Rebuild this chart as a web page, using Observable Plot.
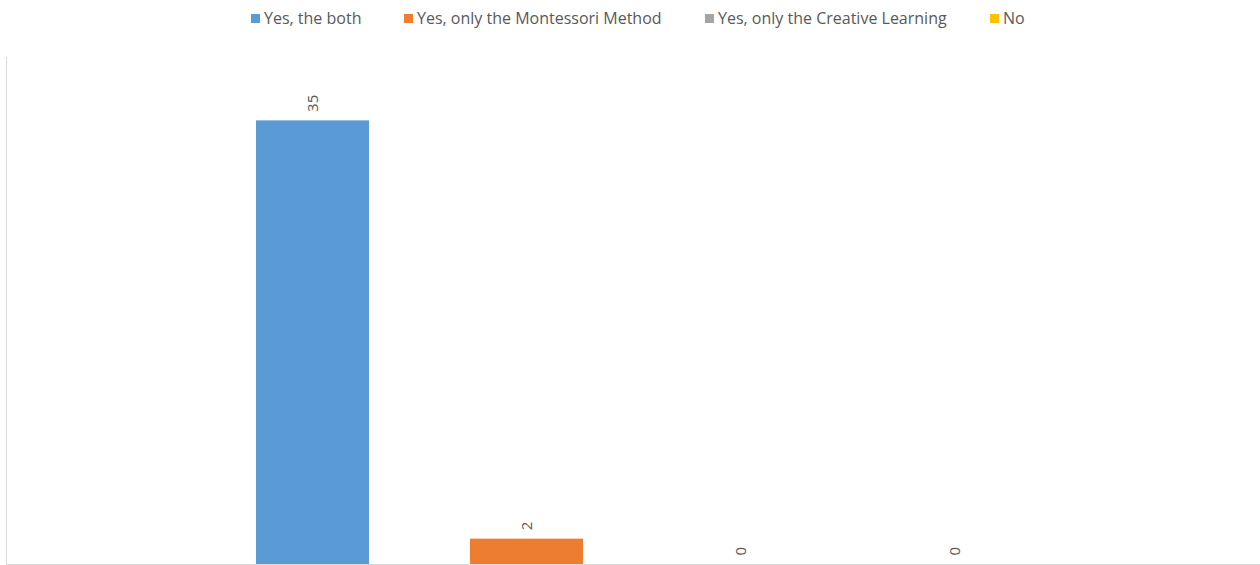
<!DOCTYPE html>
<html>
<head>
<meta charset="utf-8">
<script src="https://cdn.jsdelivr.net/npm/d3@7"></script>
<script src="https://cdn.jsdelivr.net/npm/@observablehq/plot@0.6"></script>
<style>
  html, body { margin: 0; padding: 0; background: #fff; }
  #wrap { position: relative; width: 1260px; height: 565px; overflow: hidden; }
  #legend { position: relative; height: 40px; width: 1260px; font-family: "Open Sans", sans-serif; font-size: 16px; color: #595959; }
  .item { position: absolute; top: 7px; white-space: nowrap; }
  .sw { display: inline-block; width: 9px; height: 9px; margin-right: 4px; vertical-align: 1px; }
</style>
</head>
<body>
<div id="wrap">
  <div id="legend"></div>
  <div id="chart"></div>
</div>
<script>
const series = ["Yes, the both", "Yes, only the Montessori Method", "Yes, only the Creative Learning", "No"];
const values = [35, 2, 0, 0];
const colors = ["#5B9BD5", "#ED7D31", "#A5A5A5", "#FFC000"];
const legendX = [251, 404, 705, 990];

const data = series.map((s, i) => ({series: s, value: values[i]}));

const legend = document.getElementById("legend");
series.forEach((s, i) => {
  const el = document.createElement("div");
  el.className = "item";
  el.style.left = legendX[i] + "px";
  el.innerHTML = `<span class="sw" style="background:${colors[i]}"></span>${s}`;
  legend.appendChild(el);
});

const chart = Plot.plot({
  width: 1260,
  height: 525,
  marginTop: 17,
  marginBottom: 1,
  marginLeft: 6,
  marginRight: 0,
  x: {domain: series, range: [155, 1112], padding: 0.472, round: false, axis: null},
  y: {domain: [0, 40], axis: null},
  color: {domain: series, range: colors},
  style: {fontFamily: "Open Sans, sans-serif", background: "#fff"},
  marks: [
    Plot.frame({anchor: "left", stroke: "#d9d9d9", strokeOpacity: 1}),
    Plot.barY(data, {x: "series", y: "value", fill: "series"}),
    Plot.ruleY([0], {stroke: "#d9d9d9"}),
    Plot.text(data, {x: "series", y: "value", text: d => String(d.value), rotate: -90, textAnchor: "start", lineAnchor: "middle", dy: -9, fill: "#595959", fontSize: 15})
  ]
});
document.getElementById("chart").appendChild(chart);
</script>
</body>
</html>
